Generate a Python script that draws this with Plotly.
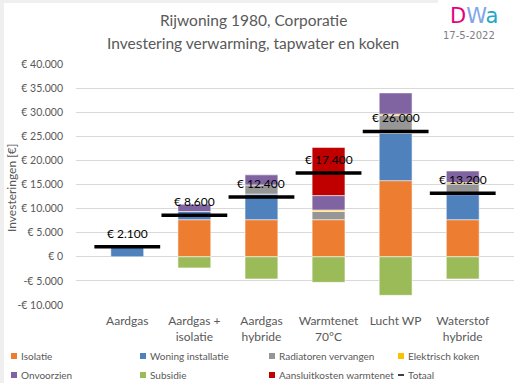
import plotly.graph_objects as go

# Investment per heating option (euro), split into cost components
categories = ["Aardgas", "Aardgas +<br>isolatie", "Aardgas<br>hybride",
              "Warmtenet<br>70°C", "Lucht WP", "Waterstof<br>hybride"]
isolatie = [0, 7700, 7700, 7700, 15800, 7700]
woning_installatie = [2100, 1700, 5300, 0, 9800, 5200]
radiatoren = [0, 0, 1900, 1700, 3700, 2200]
elektrisch_koken = [0, 0, 0, 300, 300, 300]
onvoorzien = [0, 1500, 2100, 3000, 4400, 2400]
subsidie = [0, -2300, -4600, -5300, -8000, -4600]
aansluitkosten = [0, 0, 0, 10000, 0, 0]

components = [
    ("Isolatie", isolatie, "#ED7D31"),
    ("Woning installatie", woning_installatie, "#4F81BD"),
    ("Radiatoren vervangen", radiatoren, "#969696"),
    ("Elektrisch koken", elektrisch_koken, "#FFC000"),
    ("Onvoorzien", onvoorzien, "#8064A2"),
    ("Subsidie", subsidie, "#9BBB59"),
    ("Aansluitkosten warmtenet", aansluitkosten, "#C00000"),
]

totaal = [sum(vals) for vals in zip(*[c[1] for c in components])]

y_ticks = [-10000, -5000, 0, 5000, 10000, 15000, 20000, 25000, 30000, 35000, 40000]


def euro(v):
    s = f"{abs(v):,.0f}".replace(",", ".")
    return ("-€ " if v < 0 else "€ ") + s


W, H = 516, 383
PL, PT, PW, PH = 76, 64, 438, 241   # plot area in pixels
GREY = "#595959"
FONT = "Lato"


def px_x(px):
    return (px - PL) / PW


def px_y(py):
    return (PT + PH - py) / PH


def note(text, px, py, size, color=GREY, family=FONT, angle=0, xanchor="center"):
    fig.add_annotation(text=text, xref="paper", yref="paper",
                       x=px_x(px), y=px_y(py),
                       xanchor=xanchor, yanchor="middle", textangle=angle,
                       showarrow=False, font=dict(family=family, size=size, color=color))


fig = go.Figure()
for name, vals, color in components:
    fig.add_trace(go.Bar(
        name=name, x=categories, y=[v if v != 0 else None for v in vals],
        marker=dict(color=color, line=dict(color="rgba(255,255,255,0.55)", width=1)),
        width=0.49, showlegend=False,
    ))

fig.add_trace(go.Scatter(
    name="Totaal", x=categories, y=totaal, mode="markers", showlegend=False,
    marker=dict(symbol="line-ew", size=47, color="black",
                line=dict(color="black", width=3.5)),
))

for cat, tot in zip(categories, totaal):
    fig.add_annotation(x=cat, y=tot, text=euro(tot), showarrow=False,
                       xanchor="center", yanchor="bottom",
                       yshift=4, font=dict(family=FONT, size=12, color="black"))

fig.update_layout(
    width=W, height=H,
    margin=dict(l=PL, r=W - PL - PW, t=PT, b=H - PT - PH, autoexpand=False),
    paper_bgcolor="white", plot_bgcolor="white",
    barmode="relative", bargap=0.5,
    font=dict(family=FONT, color=GREY),
)

fig.update_xaxes(showgrid=False, showline=False, ticks="", ticklabelstandoff=7,
                 tickfont=dict(family=FONT, size=12, color=GREY))
fig.update_yaxes(range=[-10000, 40000], tickvals=y_ticks,
                 ticktext=[euro(v) for v in y_ticks],
                 showgrid=True, gridcolor="#D9D9D9", gridwidth=1,
                 zeroline=True, zerolinecolor="#D9D9D9", zerolinewidth=1,
                 showline=False, ticks="", ticklabelstandoff=12,
                 tickfont=dict(family=FONT, size=10.5, color=GREY))

# legend: 4 columns x 2 rows below the plot
legend_cols = [11, 140, 269, 398]
legend_rows = [356, 375]
for i, (name, _, color) in enumerate(components):
    lx = legend_cols[i % 4]
    ly = legend_rows[i // 4]
    fig.add_shape(type="rect", xref="paper", yref="paper",
                  x0=px_x(lx), x1=px_x(lx + 6), y0=px_y(ly + 3), y1=px_y(ly - 3),
                  fillcolor=color, line_width=0)
    note(name, lx + 8, ly, 10, xanchor="left")
lx, ly = legend_cols[3], legend_rows[1]
fig.add_shape(type="line", xref="paper", yref="paper",
              x0=px_x(lx), x1=px_x(lx + 6), y0=px_y(ly), y1=px_y(ly),
              line=dict(color="black", width=1.5))
note("Totaal", lx + 8, ly, 10, xanchor="left")

# axis title
note("Investeringen [€]", 11, 188, 12, angle=-90)

# chart title
note("Rijwoning 1980, Corporatie", 253, 20, 15.5)
note("Investering verwarming, tapwater en koken", 253, 43, 15.5)

# logo and date
note("<span style='color:#E6007E'>D</span><span style='color:#7FA6E8'>W</span>"
     "<span style='color:#1FA8C9'>a</span>", 474, 16, 21, family="DejaVu Sans")
note("17-5-2022", 469, 35, 10, color="#7F7F7F", family="DejaVu Sans")

# light frame along the left and top edge
fig.add_shape(type="rect", xref="paper", yref="paper", x0=px_x(0), x1=px_x(4),
              y0=px_y(H), y1=px_y(0), fillcolor="#EFEFEF", line_width=0, layer="below")
fig.add_shape(type="rect", xref="paper", yref="paper", x0=px_x(0), x1=px_x(438),
              y0=px_y(3), y1=px_y(0), fillcolor="#EFEFEF", line_width=0, layer="below")

fig.write_html("out.html")
